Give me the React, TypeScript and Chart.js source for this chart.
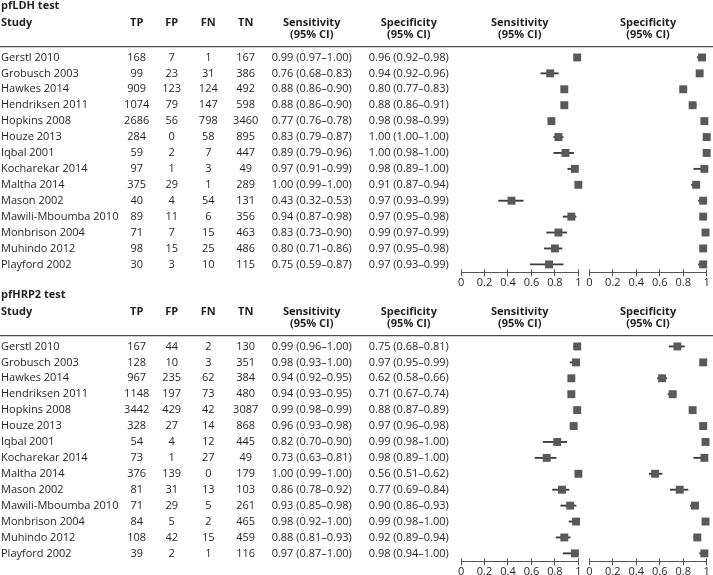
import React, { useEffect, useRef } from "react";
import { Chart, registerables } from "chart.js";

Chart.register(...registerables);

// ---------------- data ----------------
const studies = [
  "Gerstl 2010",
  "Grobusch 2003",
  "Hawkes 2014",
  "Hendriksen 2011",
  "Hopkins 2008",
  "Houze 2013",
  "Iqbal 2001",
  "Kocharekar 2014",
  "Maltha 2014",
  "Mason 2002",
  "Mawili-Mboumba 2010",
  "Monbrison 2004",
  "Muhindo 2012",
  "Playford 2002",
];
const countHeaders = ["TP", "FP", "FN", "TN"];
const ciHeader = "(95% CI)";
const axisTicks = [0, 0.2, 0.4, 0.6, 0.8, 1];
const axisTickLabels = ["0", "0.2", "0.4", "0.6", "0.8", "1"];

const ldhTitle = "pfLDH test";
const ldhTP = [168, 99, 909, 1074, 2686, 284, 59, 97, 375, 40, 89, 71, 98, 30];
const ldhFP = [7, 23, 123, 79, 56, 0, 2, 1, 29, 4, 11, 7, 15, 3];
const ldhFN = [1, 31, 124, 147, 798, 58, 7, 3, 1, 54, 6, 15, 25, 10];
const ldhTN = [167, 386, 492, 598, 3460, 895, 447, 49, 289, 131, 356, 463, 486, 115];
const ldhSens = [0.99, 0.76, 0.88, 0.88, 0.77, 0.83, 0.89, 0.97, 1.0, 0.43, 0.94, 0.83, 0.8, 0.75];
const ldhSensLow = [0.97, 0.68, 0.86, 0.86, 0.76, 0.79, 0.79, 0.91, 0.99, 0.32, 0.87, 0.73, 0.71, 0.59];
const ldhSensHigh = [1.0, 0.83, 0.9, 0.9, 0.78, 0.87, 0.96, 0.99, 1.0, 0.53, 0.98, 0.9, 0.86, 0.87];
const ldhSpec = [0.96, 0.94, 0.8, 0.88, 0.98, 1.0, 1.0, 0.98, 0.91, 0.97, 0.97, 0.99, 0.97, 0.97];
const ldhSpecLow = [0.92, 0.92, 0.77, 0.86, 0.98, 1.0, 0.98, 0.89, 0.87, 0.93, 0.95, 0.97, 0.95, 0.93];
const ldhSpecHigh = [0.98, 0.96, 0.83, 0.91, 0.99, 1.0, 1.0, 1.0, 0.94, 0.99, 0.98, 0.99, 0.98, 0.99];

const hrpTitle = "pfHRP2 test";
const hrpTP = [167, 128, 967, 1148, 3442, 328, 54, 73, 376, 81, 71, 84, 108, 39];
const hrpFP = [44, 10, 235, 197, 429, 27, 4, 1, 139, 31, 29, 5, 42, 2];
const hrpFN = [2, 3, 62, 73, 42, 14, 12, 27, 0, 13, 5, 2, 15, 1];
const hrpTN = [130, 351, 384, 480, 3087, 868, 445, 49, 179, 103, 261, 465, 459, 116];
const hrpSens = [0.99, 0.98, 0.94, 0.94, 0.99, 0.96, 0.82, 0.73, 1.0, 0.86, 0.93, 0.98, 0.88, 0.97];
const hrpSensLow = [0.96, 0.93, 0.92, 0.93, 0.98, 0.93, 0.7, 0.63, 0.99, 0.78, 0.85, 0.92, 0.81, 0.87];
const hrpSensHigh = [1.0, 1.0, 0.95, 0.95, 0.99, 0.98, 0.9, 0.81, 1.0, 0.92, 0.98, 1.0, 0.93, 1.0];
const hrpSpec = [0.75, 0.97, 0.62, 0.71, 0.88, 0.97, 0.99, 0.98, 0.56, 0.77, 0.9, 0.99, 0.92, 0.98];
const hrpSpecLow = [0.68, 0.95, 0.58, 0.67, 0.87, 0.96, 0.98, 0.89, 0.51, 0.69, 0.86, 0.98, 0.89, 0.94];
const hrpSpecHigh = [0.81, 0.99, 0.66, 0.74, 0.89, 0.98, 1.0, 1.0, 0.62, 0.84, 0.93, 1.0, 0.94, 1.0];

// ---------------- style / layout ----------------
const FONT = '"Open Sans", "Noto Sans", sans-serif';
const INK = "#231f20";
const MARK = "#595959";
const WHISKER = "#3c3c3c";
const AXIS = "#555555";
const RULE = "#4a4a4a";
const PAGE_W = 713;
const SECTION_TOPS = [0, 289];
const SECTION_HEIGHTS = [289, 286];
const TITLE_Y = 6;
const HEAD1_Y = 23;
const HEAD2_Y = 34.5;
const RULE_Y = 46.7;
const AREA_TOP = 49.5;
const AREA_BOTTOM = 268.3;
const TICK_LEN = 4;
const TICK_FONT = 11;
const TICK_LH = 1.1;
const STUDY_X = 1;
const COUNT_X = [136.7, 171.7, 208.3, 245.7];
const SENS_TEXT_X = 311.7;
const SPEC_TEXT_X = 408.8;
const PAD_LEFT = 6;
const PAD_RIGHT = 6.3;
const W_TABLE = 455;
const W_PANEL = 117.3;
const W_GAP = 11;

type Section = {
  title: string;
  tp: number[];
  fp: number[];
  fn: number[];
  tn: number[];
  sens: number[];
  sensLow: number[];
  sensHigh: number[];
  spec: number[];
  specLow: number[];
  specHigh: number[];
};

const sections: Section[] = [
  {
    title: ldhTitle, tp: ldhTP, fp: ldhFP, fn: ldhFN, tn: ldhTN,
    sens: ldhSens, sensLow: ldhSensLow, sensHigh: ldhSensHigh,
    spec: ldhSpec, specLow: ldhSpecLow, specHigh: ldhSpecHigh,
  },
  {
    title: hrpTitle, tp: hrpTP, fp: hrpFP, fn: hrpFN, tn: hrpTN,
    sens: hrpSens, sensLow: hrpSensLow, sensHigh: hrpSensHigh,
    spec: hrpSpec, specLow: hrpSpecLow, specHigh: hrpSpecHigh,
  },
];

const fmtCI = (v: number, lo: number, hi: number) =>
  `${v.toFixed(2)} (${lo.toFixed(2)}\u2013${hi.toFixed(2)})`;

function hiddenAxis(weight: number) {
  return {
    type: "linear",
    axis: "x",
    position: "bottom",
    stack: "cols",
    stackWeight: weight,
    display: true,
    grid: { display: false, drawTicks: false },
    border: { display: false },
    ticks: { display: false },
  };
}

function panelAxis() {
  return {
    type: "linear",
    axis: "x",
    position: "bottom",
    stack: "cols",
    stackWeight: W_PANEL,
    min: 0,
    max: 1,
    grid: {
      display: true,
      drawOnChartArea: false,
      drawTicks: true,
      tickLength: TICK_LEN,
      color: AXIS,
      lineWidth: 1,
    },
    border: { display: true, color: AXIS, width: 1 },
    afterBuildTicks: (scale: any) => {
      scale.ticks = axisTicks.map((v) => ({ value: v }));
    },
    ticks: {
      autoSkip: false,
      maxRotation: 0,
      minRotation: 0,
      padding: 0,
      color: INK,
      font: { family: FONT, size: TICK_FONT, lineHeight: TICK_LH },
      callback: (_v: any, i: number) => axisTickLabels[i],
    },
  };
}

function alignPx(p: number, w: number) {
  const h = w / 2;
  return Math.round(p - h) + h;
}

function tablePlugin(sec: Section) {
  return {
    id: "forestTable",
    afterDraw(chart: any) {
      const { ctx } = chart;
      const yS = chart.scales.y;
      const xS = chart.scales.xSens;
      const xP = chart.scales.xSpec;
      ctx.save();
      ctx.fillStyle = INK;
      ctx.textBaseline = "middle";

      ctx.textAlign = "left";
      ctx.font = `bold 11px ${FONT}`;
      ctx.fillText(sec.title, STUDY_X, TITLE_Y);

      ctx.fillText("Study", STUDY_X, HEAD1_Y);
      ctx.textAlign = "center";
      countHeaders.forEach((h, k) => ctx.fillText(h, COUNT_X[k], HEAD1_Y));
      const twoLine = (label: string, x: number) => {
        ctx.fillText(label, x, HEAD1_Y);
        ctx.fillText(ciHeader, x, HEAD2_Y);
      };
      twoLine("Sensitivity", SENS_TEXT_X);
      twoLine("Specificity", SPEC_TEXT_X);
      twoLine("Sensitivity", (xS.left + xS.right) / 2);
      twoLine("Specificity", (xP.left + xP.right) / 2);

      ctx.strokeStyle = RULE;
      ctx.lineWidth = 1.2;
      ctx.beginPath();
      ctx.moveTo(0, RULE_Y);
      ctx.lineTo(chart.width, RULE_Y);
      ctx.stroke();

      ctx.font = `11px ${FONT}`;
      const cols = [sec.tp, sec.fp, sec.fn, sec.tn];
      studies.forEach((name, i) => {
        const y = yS.getPixelForValue(i);
        ctx.textAlign = "left";
        ctx.fillText(name, STUDY_X, y);
        ctx.textAlign = "center";
        cols.forEach((arr, k) => ctx.fillText(String(arr[i]), COUNT_X[k], y));
        ctx.fillText(fmtCI(sec.sens[i], sec.sensLow[i], sec.sensHigh[i]), SENS_TEXT_X, y);
        ctx.fillText(fmtCI(sec.spec[i], sec.specLow[i], sec.specHigh[i]), SPEC_TEXT_X, y);
      });

      // short tick stubs above the axis line
      ctx.strokeStyle = AXIS;
      ctx.lineWidth = 1;
      [xS, xP].forEach((sc: any) => {
        axisTicks.forEach((v) => {
          const x = alignPx(sc.getPixelForValue(v), 1);
          ctx.beginPath();
          ctx.moveTo(x, sc.top - 3);
          ctx.lineTo(x, sc.top);
          ctx.stroke();
        });
      });
      ctx.restore();
    },
  };
}

function makeConfig(sec: Section, height: number): any {
  const point = (vals: number[], axis: string) => ({
    type: "scatter",
    data: vals.map((v, i) => ({ x: v, y: studies[i] })),
    xAxisID: axis,
    yAxisID: "y",
    pointStyle: "rect",
    pointRadius: 5.6,
    pointHoverRadius: 5.6,
    backgroundColor: MARK,
    borderColor: MARK,
    borderWidth: 0,
    order: 0,
    clip: false,
  });
  const whisker = (lo: number[], hi: number[], axis: string) => ({
    type: "bar",
    indexAxis: "y",
    data: lo.map((l, i) => [l, hi[i]]),
    xAxisID: axis,
    yAxisID: "y",
    backgroundColor: WHISKER,
    borderWidth: 0,
    barThickness: 1.2,
    grouped: false,
    order: 1,
    clip: false,
  });
  const axisH = TICK_LEN + TICK_FONT * TICK_LH;
  return {
    type: "scatter",
    data: {
      labels: studies,
      datasets: [
        point(sec.sens, "xSens"),
        point(sec.spec, "xSpec"),
        whisker(sec.sensLow, sec.sensHigh, "xSens"),
        whisker(sec.specLow, sec.specHigh, "xSpec"),
      ],
    },
    options: {
      responsive: false,
      animation: false,
      devicePixelRatio: 1,
      events: [],
      layout: {
        padding: {
          top: AREA_TOP,
          left: PAD_LEFT,
          right: PAD_RIGHT,
          bottom: height - AREA_BOTTOM - axisH,
        },
      },
      plugins: { legend: { display: false }, tooltip: { enabled: false } },
      scales: {
        y: { type: "category", axis: "y", position: "left", display: false, offset: true },
        xTable: hiddenAxis(W_TABLE),
        xSens: panelAxis(),
        xGap: hiddenAxis(W_GAP),
        xSpec: panelAxis(),
      },
    },
    plugins: [tablePlugin(sec)],
  };
}

export default function App() {
  const topRef = useRef<HTMLCanvasElement>(null);
  const botRef = useRef<HTMLCanvasElement>(null);
  useEffect(() => {
    const charts = [
      new Chart(topRef.current as HTMLCanvasElement, makeConfig(sections[0], SECTION_HEIGHTS[0])),
      new Chart(botRef.current as HTMLCanvasElement, makeConfig(sections[1], SECTION_HEIGHTS[1])),
    ];
    return () => charts.forEach((c) => c.destroy());
  }, []);
  return (
    <div style={{ position: "absolute", left: 0, top: 0, width: PAGE_W, height: 575, background: "#fff" }}>
      <canvas
        ref={topRef}
        width={PAGE_W}
        height={SECTION_HEIGHTS[0]}
        style={{ position: "absolute", left: 0, top: SECTION_TOPS[0], width: PAGE_W, height: SECTION_HEIGHTS[0] }}
      />
      <canvas
        ref={botRef}
        width={PAGE_W}
        height={SECTION_HEIGHTS[1]}
        style={{ position: "absolute", left: 0, top: SECTION_TOPS[1], width: PAGE_W, height: SECTION_HEIGHTS[1] }}
      />
    </div>
  );
}
